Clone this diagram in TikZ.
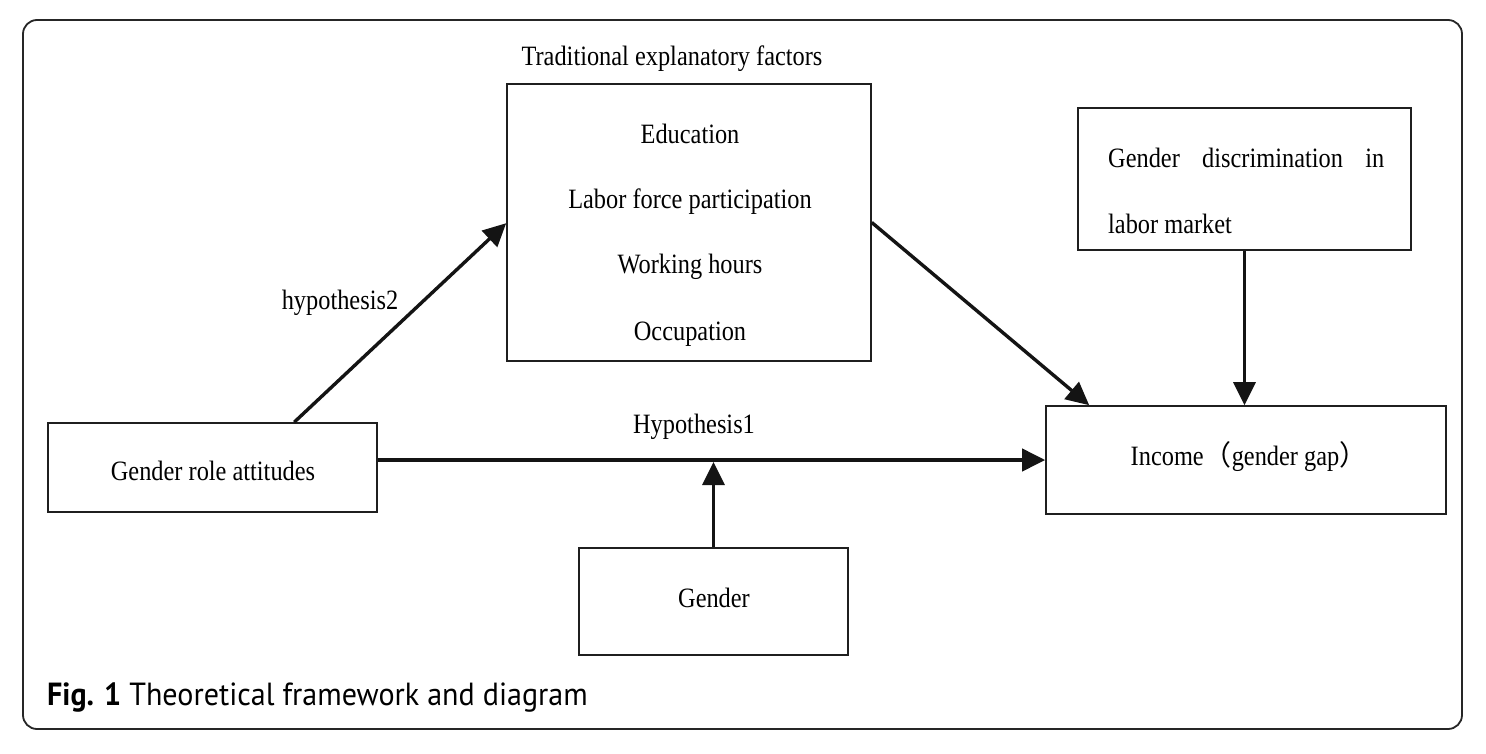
\documentclass[tikz,border=0pt]{standalone}
\usepackage{fontspec}
\newfontfamily\diag[FakeStretch=0.87]{Liberation Serif}
\newfontfamily\cjk{Noto Sans CJK SC}
\newfontfamily\capfont[FakeStretch=0.94]{PT Sans}
\usetikzlibrary{arrows.meta,calc}
\begin{document}
\begin{tikzpicture}[x=1pt,y=-1pt,
  box/.style={draw=black!88, line width=1.6pt, inner sep=0pt},
  lbl/.style={font=\diag\fontsize{28}{32}\selectfont, inner sep=0pt, anchor=base},
  conn/.style={line width=3.4pt, draw=black!92, -{Triangle[length=23pt,width=22pt]}},
]
\useasboundingbox (0,0) rectangle (1486,753);
\draw[line width=1.8pt, black!85, rounded corners=14pt] (23,20) rectangle (1462,729);

% boxes
\node[box, minimum width=364pt, minimum height=277pt] (trad) at (689,222.5) {};
\node[box, minimum width=333pt, minimum height=142pt] (disc) at (1244.5,179) {};
\node[box, minimum width=400pt, minimum height=108pt] (inc) at (1246,460) {};
\node[box, minimum width=329pt, minimum height=89pt] (gra) at (212.5,467.5) {};
\node[box, minimum width=269pt, minimum height=107pt] (gen) at (713.5,601.5) {};

% texts
\node[lbl] (title) at (672,65) {Traditional explanatory factors};
\node[lbl] (edu) at (690,143) {Education};
\node[lbl] (lab) at (690,208) {Labor force participation};
\node[lbl] (work) at (690,273) {Working hours};
\node[lbl] (occ) at (690,340) {Occupation};
\node[lbl, anchor=base west] (disc1) at (1108,167) {\makebox[276pt][s]{Gender\hfil discrimination\hfil in}};
\node[lbl, anchor=base west] (disc2) at (1108,233) {labor market};
\node[lbl] (inct) at (1249,465) {Income{\cjk（}gender gap{\cjk）}};
\node[lbl] (grat) at (213,480) {Gender role attitudes};
\node[lbl] (gent) at (714,607) {Gender};
\node[lbl] (h1) at (694,433) {Hypothesis1};
\node[lbl] (h2) at (340,309) {hypothesis2};

% connectors
\draw[conn] ($(gra.north west)+(247,0)$) -- ($(trad.north west)+(0,140)$);
\draw[conn] (trad.east) -- ($(inc.north west)+(44,0)$);
\draw[conn] (disc.south) -- (disc.south |- inc.north);
\draw[conn, line width=4pt] (gra.east |- inc.west) -- (inc.west);
\draw[conn] (gen.north) -- ($(gen.north |- inc.west)+(0,2)$);

% caption
\node[font=\capfont\fontsize{32}{36}\selectfont, anchor=base west, inner sep=0pt] (cap) at (47,705) {\textbf{Fig. 1} Theoretical framework and diagram};
\end{tikzpicture}
\end{document}
